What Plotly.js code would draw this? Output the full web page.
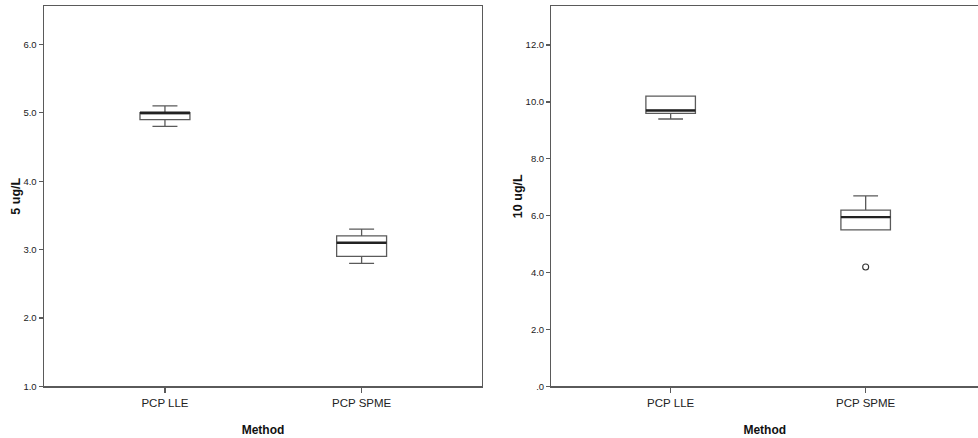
<!DOCTYPE html>
<html>
<head>
<meta charset="utf-8">
<script src="https://cdn.plot.ly/plotly-3.0.1.min.js"></script>
<style>html,body{margin:0;padding:0;background:#fff;}#chart{width:978px;height:438px;}</style>
</head>
<body>
<div id="chart"></div>
<script>
// ---- data ----
const categories = ["PCP LLE", "PCP SPME"];

// 5 ug/L panel
const c5Min = [4.8, 2.8];
const c5Q1 = [4.9, 2.9];
const c5Median = [5.0, 3.1];
const c5Q3 = [5.0, 3.2];
const c5Max = [5.1, 3.3];

// 10 ug/L panel
const c10Min = [9.4, 5.5];
const c10Q1 = [9.6, 5.5];
const c10Median = [9.7, 5.95];
const c10Q3 = [10.2, 6.2];
const c10Max = [10.2, 6.7];
const c10OutlierX = ["PCP SPME"];
const c10OutlierY = [4.2];

// tick labels
const y5Ticks = [1, 2, 3, 4, 5, 6];
const y5TickText = ["1.0", "2.0", "3.0", "4.0", "5.0", "6.0"];
const y10Ticks = [0, 2, 4, 6, 8, 10, 12];
const y10TickText = [".0", "2.0", "4.0", "6.0", "8.0", "10.0", "12.0"];

// ---- styles ----
const FONT = "Liberation Sans, Arial, sans-serif";
const LINE = "#5a5a5a";
const BOXW = 0.254;

function boxTrace(xa, ya, q1, med, q3, lo, hi) {
  return {
    type: "box", x: categories, q1: q1, median: med, q3: q3,
    lowerfence: lo, upperfence: hi, xaxis: xa, yaxis: ya,
    width: BOXW, whiskerwidth: 0.5, boxpoints: false,
    fillcolor: "#ffffff", line: {color: LINE, width: 1.3},
    hoverinfo: "skip", showlegend: false
  };
}
function medianTrace(xa, ya, med) {
  return {
    type: "box", x: categories, q1: med, median: med, q3: med,
    lowerfence: med, upperfence: med, xaxis: xa, yaxis: ya,
    width: BOXW, whiskerwidth: 0, boxpoints: false,
    fillcolor: "rgba(0,0,0,0)", line: {color: "#222222", width: 2.4},
    hoverinfo: "skip", showlegend: false
  };
}

const data = [
  boxTrace("x", "y", c5Q1, c5Median, c5Q3, c5Min, c5Max),
  medianTrace("x", "y", c5Median),
  boxTrace("x2", "y2", c10Q1, c10Median, c10Q3, c10Min, c10Max),
  medianTrace("x2", "y2", c10Median),
  {
    type: "scatter", mode: "markers", x: c10OutlierX, y: c10OutlierY,
    xaxis: "x2", yaxis: "y2",
    marker: {symbol: "circle-open", size: 6, color: "#333333", line: {width: 1.1}},
    hoverinfo: "skip", showlegend: false
  }
];

function xAxis(domain, range) {
  return {
    domain: domain, type: "category", range: range,
    showline: true, linecolor: LINE, linewidth: 1.5, mirror: true,
    ticks: "outside", ticklen: 5, tickwidth: 1.2, tickcolor: LINE,
    showgrid: false, zeroline: false,
    tickfont: {family: FONT, size: 11.5, color: "#222"},
    title: {text: "<b>Method</b>", font: {family: FONT, size: 12, color: "#111"}, standoff: 18}
  };
}
function yAxis(domain, range, tv, tt, title, anchor, mirror) {
  return {
    domain: domain, range: range, anchor: anchor,
    showline: true, linecolor: LINE, linewidth: 1.5, mirror: mirror,
    ticks: "outside", ticklen: 4, tickwidth: 1.2, tickcolor: LINE,
    tickvals: tv, ticktext: tt,
    showgrid: false, zeroline: false,
    tickfont: {family: FONT, size: 9.5, color: "#222"},
    title: {text: "<b>" + title + "</b>", font: {family: FONT, size: 12.5, color: "#111"}, standoff: 0}
  };
}

const yDom = [0.1176, 0.9863];
const xa1 = xAxis([0.045, 0.4928], [-0.615, 1.612]);
xa1.anchor = "y";
const xa2 = xAxis([0.5639, 1], [-0.611, 1.576]);
xa2.anchor = "y2";

const layout = {
  width: 978, height: 438,
  margin: {l: 0, r: 0, t: 0, b: 0},
  paper_bgcolor: "#ffffff", plot_bgcolor: "#ffffff",
  showlegend: false,
  xaxis: xa1,
  yaxis: yAxis(yDom, [1, 6.56], y5Ticks, y5TickText, "5 ug/L", "x", true),
  xaxis2: xa2,
  yaxis2: yAxis(yDom, [0, 13.37], y10Ticks, y10TickText, "10 ug/L", "x2", false)
};

Plotly.newPlot("chart", data, layout, {displayModeBar: false, staticPlot: true});
</script>
</body>
</html>
